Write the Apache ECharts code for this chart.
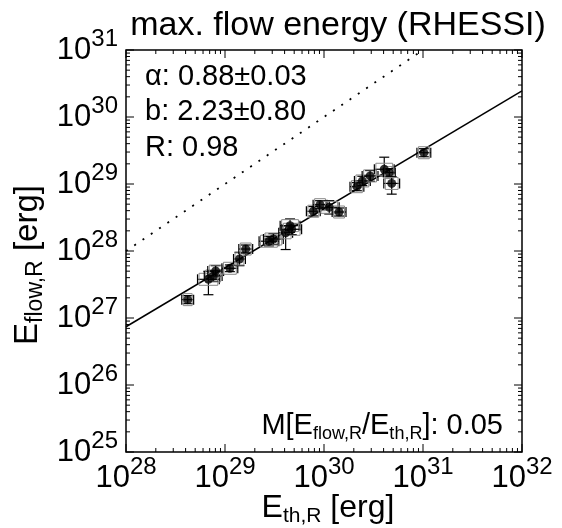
<!DOCTYPE html>
<html><head><meta charset="utf-8">
<script src="https://cdn.jsdelivr.net/npm/echarts@6/dist/echarts.min.js"></script>
<style>html,body{margin:0;padding:0;background:#fff}#c{width:562px;height:528px}</style>
</head><body><div id="c"></div>
<script>
// ---- data ----
const xTickExponents = [28, 29, 30, 31, 32];
const yTickExponents = [25, 26, 27, 28, 29, 30, 31];
const eTh = [4.2e28, 6.8e28, 7.6e28, 8.05e28, 1.12e29, 1.40e29, 1.62e29, 2.78e29, 3.08e29, 4.10e29, 4.54e29, 4.72e29,
  7.80e29, 9.12e29, 1.13e30, 1.42e30, 2.15e30, 2.44e30, 2.92e30, 4.06e30, 4.57e30, 4.83e30, 1.02e31];
const eFlow = [1.88e27, 3.78e27, 4.24e27, 5.02e27, 5.52e27, 7.60e27, 1.07e28, 1.40e28, 1.51e28, 1.87e28, 2.39e28, 2.11e28,
  3.92e28, 4.91e28, 4.49e28, 3.82e28, 9.12e28, 1.11e29, 1.32e29, 1.66e29, 1.48e29, 1.02e29, 2.93e29];
const xErrDex = [0.06, 0.11, 0.09, 0.08, 0.08, 0.06, 0.07, 0.10, 0.10, 0.07, 0.10, 0.10,
  0.07, 0.07, 0.10, 0.07, 0.07, 0.08, 0.08, 0.10, 0.06, 0.08, 0.07];
const yErrLoDex = [0.06, 0.23, 0.08, 0.08, 0.05, 0.10, 0.06, 0.07, 0.08, 0.25, 0.10, 0.08,
  0.07, 0.06, 0.10, 0.06, 0.06, 0.07, 0.08, 0.10, 0.06, 0.16, 0.06];
const yErrHiDex = [0.06, 0.12, 0.08, 0.08, 0.05, 0.10, 0.06, 0.07, 0.08, 0.10, 0.10, 0.08,
  0.07, 0.06, 0.10, 0.06, 0.06, 0.07, 0.08, 0.18, 0.06, 0.10, 0.06];
const fitLineX = [1e28, 1e32];
const fitLineY = [7.4e26, 2.45e30];
const unityLineX = [1e28, 1e31];
const unityLineY = [1e28, 1e31];
const annotAlpha = 'α: 0.88±0.03';
const annotB = 'b: 2.23±0.80';
const annotR = 'R: 0.98';
const annotM = '0.05';
const titleText = 'max. flow energy (RHESSI)';

// ---- build ----
const FONT = '"Liberation Sans", Arial, Helvetica, sans-serif';
const X_MIN = Math.pow(10, xTickExponents[0]), X_MAX = Math.pow(10, xTickExponents[xTickExponents.length - 1]);
const Y_MIN = Math.pow(10, yTickExponents[0]), Y_MAX = Math.pow(10, yTickExponents[yTickExponents.length - 1]);

const points = eTh.map((x, i) => [x, eFlow[i]]);
const errData = eTh.map((x, i) => [x, eFlow[i],
  x / Math.pow(10, xErrDex[i]), x * Math.pow(10, xErrDex[i]),
  eFlow[i] / Math.pow(10, yErrLoDex[i]), eFlow[i] * Math.pow(10, yErrHiDex[i])]);

const tickData = [];
for (let d = xTickExponents[0]; d <= xTickExponents[xTickExponents.length - 1]; d++) {
  const top = d === xTickExponents[xTickExponents.length - 1] ? 1 : 9;
  for (let k = 1; k <= top; k++) tickData.push([k * Math.pow(10, d), Y_MIN, 0, k === 1 ? 1 : 0]);
}
for (let d = yTickExponents[0]; d <= yTickExponents[yTickExponents.length - 1]; d++) {
  const top = d === yTickExponents[yTickExponents.length - 1] ? 1 : 9;
  for (let k = 1; k <= top; k++) tickData.push([X_MIN, k * Math.pow(10, d), 1, k === 1 ? 1 : 0]);
}

const supLabel = {
  formatter: v => '{b|10}{s|' + Math.round(Math.log10(v)) + '}',
  rich: {
    b: { fontFamily: FONT, fontSize: 31, color: '#000', lineHeight: 46, verticalAlign: 'middle' },
    s: { fontFamily: FONT, fontSize: 24, color: '#000', lineHeight: 24, verticalAlign: 'top' }
  }
};
const subRich = (fa, fs) => ({
  a: { fontFamily: FONT, fontSize: fa, lineHeight: fa + 5, verticalAlign: 'middle', fill: '#000' },
  s: { fontFamily: FONT, fontSize: fs, lineHeight: fs, verticalAlign: 'bottom', fill: '#000' }
});

const chart = echarts.init(document.getElementById('c'), null, { renderer: 'canvas' });
chart.setOption({
  animation: false,
  backgroundColor: '#fff',
  grid: { left: 126, top: 50, width: 396, height: 402, show: true, borderColor: '#000', borderWidth: 1.5, backgroundColor: 'transparent' },
  xAxis: {
    type: 'log', logBase: 10, min: X_MIN, max: X_MAX, splitNumber: 4,
    axisLine: { show: false }, axisTick: { show: false }, splitLine: { show: false },
    axisLabel: Object.assign({ margin: 3, showMinLabel: true, showMaxLabel: true, hideOverlap: false }, supLabel)
  },
  yAxis: {
    type: 'log', logBase: 10, min: Y_MIN, max: Y_MAX, splitNumber: 6,
    axisLine: { show: false }, axisTick: { show: false }, splitLine: { show: false },
    axisLabel: Object.assign({ margin: 8, showMinLabel: true, showMaxLabel: true, hideOverlap: false }, supLabel)
  },
  series: [
    {
      type: 'custom', coordinateSystem: 'cartesian2d', clip: false, silent: true,
      encode: { x: 0, y: 1 }, data: tickData, z: 5,
      renderItem: (params, api) => {
        const v = api.value(0), w = api.value(1), ax = api.value(2), major = api.value(3);
        const len = major ? 8 : 4;
        const st = { stroke: '#000', lineWidth: 1 };
        if (ax === 0) {
          const p = api.coord([v, Y_MIN]), q = api.coord([v, Y_MAX]);
          return { type: 'group', children: [
            { type: 'line', shape: { x1: p[0], y1: p[1], x2: p[0], y2: p[1] - len }, style: st },
            { type: 'line', shape: { x1: q[0], y1: q[1], x2: q[0], y2: q[1] + len }, style: st }] };
        }
        const p = api.coord([X_MIN, w]), q = api.coord([X_MAX, w]);
        return { type: 'group', children: [
          { type: 'line', shape: { x1: p[0], y1: p[1], x2: p[0] + len, y2: p[1] }, style: st },
          { type: 'line', shape: { x1: q[0], y1: q[1], x2: q[0] - len, y2: q[1] }, style: st }] };
      }
    },
    {
      type: 'line', data: unityLineX.map((x, i) => [x, unityLineY[i]]), showSymbol: false, silent: true,
      lineStyle: { color: '#000', width: 1.8, type: [2, 8] }, z: 2
    },
    {
      type: 'line', data: fitLineX.map((x, i) => [x, fitLineY[i]]), showSymbol: false, silent: true,
      lineStyle: { color: '#000', width: 1.5 }, z: 2
    },
    {
      type: 'custom', coordinateSystem: 'cartesian2d', silent: true, encode: { x: 0, y: 1 }, data: errData, z: 3,
      renderItem: (params, api) => {
        const c = api.coord([api.value(0), api.value(1)]);
        const xl = api.coord([api.value(2), api.value(1)])[0], xh = api.coord([api.value(3), api.value(1)])[0];
        const yl = api.coord([api.value(0), api.value(4)])[1], yh = api.coord([api.value(0), api.value(5)])[1];
        const cap = 5;
        const st = { stroke: '#000', lineWidth: 1.2 };
        return { type: 'group', children: [
          { type: 'line', shape: { x1: xl, y1: c[1], x2: xh, y2: c[1] }, style: st },
          { type: 'line', shape: { x1: xl, y1: c[1] - cap, x2: xl, y2: c[1] + cap }, style: st },
          { type: 'line', shape: { x1: xh, y1: c[1] - cap, x2: xh, y2: c[1] + cap }, style: st },
          { type: 'line', shape: { x1: c[0], y1: yl, x2: c[0], y2: yh }, style: st },
          { type: 'line', shape: { x1: c[0] - cap, y1: yl, x2: c[0] + cap, y2: yl }, style: st },
          { type: 'line', shape: { x1: c[0] - cap, y1: yh, x2: c[0] + cap, y2: yh }, style: st },
          { type: 'rect', shape: { x: xl + 1.5, y: c[1] - cap - 1, width: xh - xl - 3, height: 2 * cap + 2 }, style: { fill: 'none', stroke: '#888', lineWidth: 1 } }
        ] };
      }
    },
    {
      type: 'scatter', data: points, symbol: 'circle', symbolSize: 9, silent: true,
      itemStyle: { color: '#000' }, z: 4
    }
  ],
  graphic: [
    { type: 'text', x: 338, y: 26, style: { text: titleText, font: '34px ' + FONT, fill: '#000', align: 'center', verticalAlign: 'middle' } },
    { type: 'text', x: 145, y: 77, style: { text: annotAlpha, font: '29px ' + FONT, fill: '#000', align: 'left', verticalAlign: 'middle' } },
    { type: 'text', x: 145, y: 112, style: { text: annotB, font: '29px ' + FONT, fill: '#000', align: 'left', verticalAlign: 'middle' } },
    { type: 'text', x: 145, y: 148, style: { text: annotR, font: '29px ' + FONT, fill: '#000', align: 'left', verticalAlign: 'middle' } },
    { type: 'text', x: 503, y: 426, style: {
        text: '{a|M[E}{s|flow,R}{a|/E}{s|th,R}{a|]: ' + annotM + '}', align: 'right', verticalAlign: 'middle',
        rich: subRich(29, 18) } },
    { type: 'text', x: 328, y: 508, style: {
        text: '{a|E}{s|th,R}{a| [erg]}', align: 'center', verticalAlign: 'middle', rich: subRich(32, 21) } },
    { type: 'text', x: 28, y: 265, rotation: Math.PI / 2, style: {
        text: '{a|E}{s|flow,R}{a| [erg]}', align: 'center', verticalAlign: 'middle', rich: subRich(33, 23) } }
  ]
});
</script></body></html>
